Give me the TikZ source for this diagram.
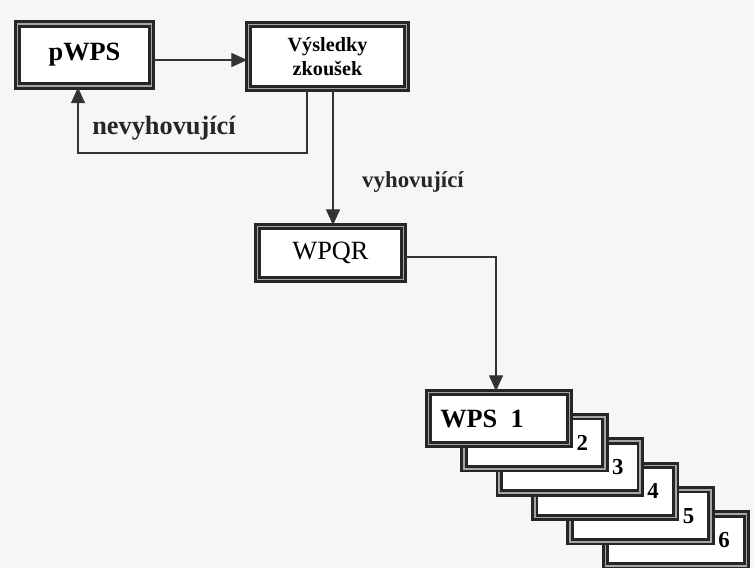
\documentclass[tikz,border=0pt]{standalone}
\usepackage{fontspec}
\setmainfont{Liberation Serif}
\usetikzlibrary{arrows.meta}

\begin{document}
\begin{tikzpicture}[
  x=0.02cm, y=-0.02cm,
  frame/.style={draw=black!85, line width=1.6pt, double=gray!70, double distance=1.0pt,
    fill=white, inner sep=2pt, font=\fontsize{15}{17}\selectfont},
  stackbox/.style={frame, minimum width=2.82cm, minimum height=1.04cm},
  conn/.style={draw=black!80, line width=0.7pt, -{Triangle[length=9pt, width=8pt]}},
  label/.style={font=\bfseries\fontsize{13}{15}\selectfont, text=black!85}
]
  \fill[gray!7] (0,0) rectangle (754,568);
  \useasboundingbox (0,0) rectangle (754,568);

  % upper part
  \node[frame, minimum width=2.68cm, minimum height=1.24cm, font=\bfseries\fontsize{15}{17}\selectfont]
    (pwps) at (84.5,55) {pWPS};
  \node[frame, minimum width=3.16cm, minimum height=1.28cm, align=center,
    font=\bfseries\fontsize{11.5}{14}\selectfont]
    (vysledky) at (327.5,56.5) {Výsledky\\zkoušek};
  \node[frame, minimum width=2.92cm, minimum height=1.06cm] (wpqr) at (330.5,253) {WPQR};

  % stack of WPS, back to front
  \foreach \k in {6,5,4,3,2} {
    \node[stackbox] (wps\k) at ({499+(\k-1)*35.4},{418.5+(\k-1)*24.3}) {};
    \node[font=\bfseries\fontsize{13}{15}\selectfont, inner sep=0pt]
      (num\k) at ([xshift=0.96cm]wps\k.center) {\k};
  }
  \node[stackbox] (wps1) at (499,418.5) {};
  \node[font=\bfseries\fontsize{15}{17}\selectfont, inner sep=0pt]
    (wpslabel) at (482,419) {WPS\enspace 1};

  % connectors
  \coordinate (back) at (78,153);
  \draw[conn] (pwps.east |- 0,60) -- (vysledky.west |- 0,60);
  \draw[conn] (vysledky.south -| 307,0) |- (back) -- (pwps.south -| back);
  \draw[conn] (vysledky.south -| 333,0) -- (wpqr.north -| 333,0);
  \draw[conn] (wpqr.east |- 0,257) -| (wps1.north -| 496,0);

  \node[label, font=\bfseries\fontsize{15}{17}\selectfont] (nevyh) at (164,128) {nevyhovující};
  \node[label] (vyh) at (413,182) {vyhovující};
\end{tikzpicture}
\end{document}
